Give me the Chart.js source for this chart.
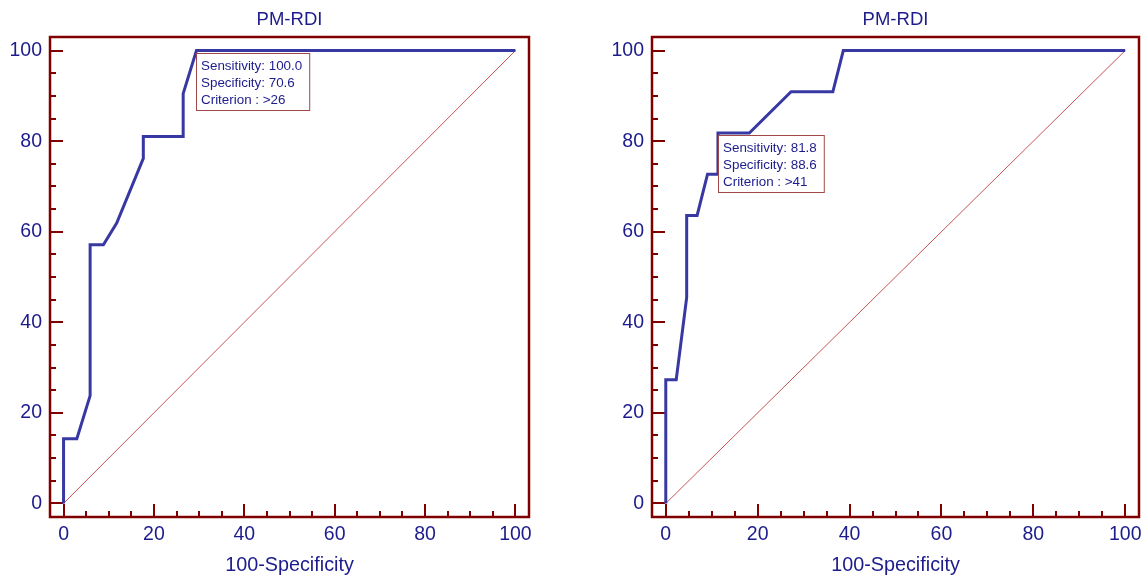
<!DOCTYPE html>
<html>
<head>
<meta charset="utf-8">
<script src="https://cdn.jsdelivr.net/npm/chart.js@4.4.0/dist/chart.umd.min.js"></script>
<style>
  html, body { margin: 0; padding: 0; background: #fff; }
  #wrap { position: relative; width: 1143px; height: 579px; }
  #leftChart { position: absolute; left: 0; top: 0; }
  #rightChart { position: absolute; left: 571px; top: 0; }
</style>
</head>
<body>
<div id="wrap">
  <canvas id="leftChart" width="571" height="579"></canvas>
  <canvas id="rightChart" width="572" height="579"></canvas>
</div>
<script>
const chartTitle = 'PM-RDI';
const xAxisTitle = '100-Specificity';
const majorTicks = [0, 20, 40, 60, 80, 100];
const minorTicks = [5, 10, 15, 25, 30, 35, 45, 50, 55, 65, 70, 75, 85, 90, 95];

// reference line
const diagX = [0, 100];
const diagY = [0, 100];

// left ROC curve (100-specificity, sensitivity)
const leftFpr  = [0, 0, 2.94, 5.88, 5.88, 8.82, 11.76, 17.65, 17.65, 26.47, 26.47, 29.41, 100];
const leftSens = [0, 14.3, 14.3, 23.8, 57.1, 57.1, 61.9, 76.2, 81.0, 81.0, 90.5, 100, 100];
const leftCriterion = [29.41, 100];
const leftNotes = ['Sensitivity: 100.0', 'Specificity: 70.6', 'Criterion : >26'];

// right ROC curve
const rightFpr  = [0, 0, 2.27, 4.55, 4.55, 6.82, 9.09, 11.36, 11.36, 18.18, 27.27, 36.36, 38.64, 100];
const rightSens = [0, 27.3, 27.3, 45.5, 63.6, 63.6, 72.7, 72.7, 81.8, 81.8, 90.9, 90.9, 100, 100];
const rightCriterion = [11.36, 81.8];
const rightNotes = ['Sensitivity: 81.8', 'Specificity: 88.6', 'Criterion : >41'];

const FONT = "'Liberation Sans', Arial, sans-serif";
const NAVY = '#1c1c8c';
const MAROON = '#800000';

const toPoints = (xs, ys) => xs.map((x, i) => ({ x: x, y: ys[i] }));

// frame round the plot area plus inward tick marks
const framePlugin = {
  id: 'frame',
  beforeDatasetsDraw(chart) {
    const { ctx, chartArea: a, scales: { x, y } } = chart;
    ctx.save();
    ctx.strokeStyle = MAROON;
    ctx.lineWidth = 2;
    ctx.beginPath();
    majorTicks.forEach(v => {
      const py = Math.round(y.getPixelForValue(v));
      ctx.moveTo(a.left, py); ctx.lineTo(a.left + 13, py);
      const px = Math.round(x.getPixelForValue(v));
      ctx.moveTo(px, a.bottom); ctx.lineTo(px, a.bottom - 13);
    });
    minorTicks.forEach(v => {
      const py = Math.round(y.getPixelForValue(v));
      ctx.moveTo(a.left, py); ctx.lineTo(a.left + 6, py);
      const px = Math.round(x.getPixelForValue(v));
      ctx.moveTo(px, a.bottom); ctx.lineTo(px, a.bottom - 6);
    });
    ctx.stroke();
    ctx.lineWidth = 2.5;
    ctx.strokeRect(a.left, a.top, a.right - a.left, a.bottom - a.top);
    ctx.restore();
  }
};

// criterion box anchored at the cut-off point
const notePlugin = {
  id: 'note',
  afterDatasetsDraw(chart, args, opts) {
    const { ctx, scales: { x, y } } = chart;
    const left = Math.round(x.getPixelForValue(opts.point[0])) + 0.5;
    const top = Math.round(y.getPixelForValue(opts.point[1])) + 2.5;
    ctx.save();
    ctx.font = '13.4px ' + FONT;
    const w = Math.max(...opts.lines.map(t => ctx.measureText(t).width)) + 12;
    const h = 57;
    ctx.fillStyle = '#fff';
    ctx.fillRect(left, top, w, h);
    ctx.strokeStyle = '#a04848';
    ctx.lineWidth = 1;
    ctx.strokeRect(left, top, w, h);
    ctx.fillStyle = NAVY;
    ctx.textBaseline = 'middle';
    opts.lines.forEach((t, i) => {
      ctx.fillText(t, left + 4.5, top + 13 + i * 16.8);
    });
    ctx.restore();
  }
};

function makeChart(id, fpr, sens, criterion, notes, yWidth, padRight) {
  const ctx = document.getElementById(id).getContext('2d');
  return new Chart(ctx, {
    type: 'scatter',
    data: {
      datasets: [
        {
          data: toPoints(fpr, sens),
          showLine: true,
          borderColor: '#3838a2',
          borderWidth: 3,
          pointRadius: 0,
          fill: false
        },
        {
          data: toPoints(diagX, diagY),
          showLine: true,
          borderColor: '#c45454',
          borderWidth: 1,
          pointRadius: 0,
          fill: false
        }
      ]
    },
    options: {
      responsive: false,
      animation: false,
      layout: { padding: { left: 0, right: padRight, top: 0, bottom: 0 } },
      scales: {
        x: {
          type: 'linear',
          min: -3,
          max: 103,
          grid: { display: false, drawTicks: false },
          border: { display: false },
          afterBuildTicks: s => { s.ticks = majorTicks.map(v => ({ value: v })); },
          afterFit: s => { s.height = 62; s.paddingLeft = 0; s.paddingRight = 0; },
          ticks: { color: NAVY, font: { family: FONT, size: 19.5 }, padding: 6, maxRotation: 0 },
          title: {
            display: true,
            text: xAxisTitle,
            color: NAVY,
            font: { family: FONT, size: 19.8 },
            padding: { top: 0, bottom: 2 }
          }
        },
        y: {
          type: 'linear',
          min: -3,
          max: 103,
          grid: { display: false, drawTicks: false },
          border: { display: false },
          afterBuildTicks: s => { s.ticks = majorTicks.map(v => ({ value: v })); },
          afterFit: s => { s.width = yWidth; s.paddingTop = 0; s.paddingBottom = 0; },
          ticks: { color: NAVY, font: { family: FONT, size: 19.5 }, padding: 8 }
        }
      },
      plugins: {
        legend: { display: false },
        tooltip: { enabled: false },
        title: {
          display: true,
          text: chartTitle,
          fullSize: false,
          color: NAVY,
          font: { family: FONT, size: 18.5, weight: 'normal' },
          padding: { top: 8.9, bottom: 5.9 }
        },
        note: { point: criterion, lines: notes }
      }
    },
    plugins: [framePlugin, notePlugin]
  });
}

makeChart('leftChart', leftFpr, leftSens, leftCriterion, leftNotes, 50, 42);
makeChart('rightChart', rightFpr, rightSens, rightCriterion, rightNotes, 81, 4);
</script>
</body>
</html>
